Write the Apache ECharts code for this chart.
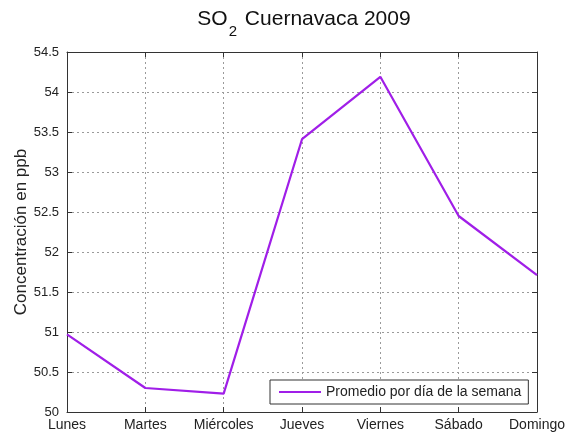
<!DOCTYPE html>
<html>
<head>
<meta charset="utf-8">
<script src="https://cdn.jsdelivr.net/npm/echarts@6/dist/echarts.min.js"></script>
<style>
  html, body { margin: 0; padding: 0; background: #fff; }
  #chart { width: 569px; height: 434px; }
</style>
</head>
<body>
<div id="chart"></div>
<script>
// Días de la semana
const dias = ['Lunes', 'Martes', 'Miércoles', 'Jueves', 'Viernes', 'Sábado', 'Domingo'];
// Promedio de SO2 por día (ppb)
const promedio = [50.97, 50.30, 50.23, 53.41, 54.19, 52.45, 51.71];
// Escala del eje Y
const yMin = 50;
const yMax = 54.5;
const yPaso = 0.5;

const FONT = '"Liberation Sans", Arial, sans-serif';
const INK = '#222';
const LINE = '#a01ee8';

const chart = echarts.init(document.getElementById('chart'), null, { renderer: 'canvas' });

const grid = { left: 67, right: 32, top: 52, bottom: 22 };
const gridStyle = { show: true, lineStyle: { color: '#9a9a9a', type: [2, 3], width: 1 } };

chart.setOption({
  animation: false,
  backgroundColor: '#fff',
  textStyle: { fontFamily: FONT, color: INK },
  title: {
    // "2" como subíndice: se alinea al fondo de una línea más alta
    text: '{a|SO}{s|2}{a| Cuernavaca 2009}',
    left: 304,
    textAlign: 'center',
    top: 9,
    padding: 0,
    textStyle: {
      rich: {
        a: { fontFamily: FONT, fontSize: 21, fontWeight: 'normal', color: '#111', lineHeight: 22, verticalAlign: 'top' },
        s: { fontFamily: FONT, fontSize: 15, fontWeight: 'normal', color: '#111', lineHeight: 30, verticalAlign: 'bottom', padding: [0, 2, 0, 1] }
      }
    }
  },
  legend: {
    data: ['Promedio por día de la semana'],
    left: 270,
    top: 380,
    itemWidth: 42,
    itemHeight: 2,
    itemGap: 0,
    padding: [5, 7, 5, 9],
    borderColor: '#333',
    borderWidth: 1,
    borderRadius: 0,
    backgroundColor: '#fff',
    textStyle: { fontFamily: FONT, fontSize: 14, color: INK },
    icon: 'rect'
  },
  grid: grid,
  xAxis: [
    {
      type: 'category',
      data: dias,
      boundaryGap: false,
      axisLine: { show: true, lineStyle: { color: '#333', width: 1 } },
      axisTick: { show: true, inside: true, length: 5, lineStyle: { color: '#333' } },
      axisLabel: { fontFamily: FONT, fontSize: 14, color: INK, margin: 6, interval: 0 },
      splitLine: gridStyle
    },
    {
      type: 'category',
      data: dias,
      position: 'top',
      boundaryGap: false,
      axisLine: { show: true, lineStyle: { color: '#333', width: 1 } },
      axisTick: { show: true, inside: true, length: 5, lineStyle: { color: '#333' } },
      axisLabel: { show: false },
      splitLine: { show: false }
    }
  ],
  yAxis: [
    {
      type: 'value',
      min: yMin,
      max: yMax,
      interval: yPaso,
      name: 'Concentración en ppb',
      nameLocation: 'middle',
      nameGap: 37,
      nameMoveOverlap: false,
      nameTextStyle: { fontFamily: FONT, fontSize: 17, color: INK },
      axisLine: { show: true, lineStyle: { color: '#333', width: 1 } },
      axisTick: { show: true, inside: true, length: 5, lineStyle: { color: '#333' } },
      axisLabel: { fontFamily: FONT, fontSize: 13, color: INK, margin: 8 },
      splitLine: gridStyle
    },
    {
      type: 'value',
      min: yMin,
      max: yMax,
      interval: yPaso,
      position: 'right',
      axisLine: { show: true, lineStyle: { color: '#333', width: 1 } },
      axisTick: { show: true, inside: true, length: 5, lineStyle: { color: '#333' } },
      axisLabel: { show: false },
      splitLine: { show: false }
    }
  ],
  series: [
    {
      name: 'Promedio por día de la semana',
      type: 'line',
      data: promedio,
      xAxisIndex: 0,
      yAxisIndex: 0,
      showSymbol: false,
      symbol: 'none',
      lineStyle: { color: LINE, width: 2.2 },
      itemStyle: { color: LINE }
    }
  ]
});
</script>
</body>
</html>
